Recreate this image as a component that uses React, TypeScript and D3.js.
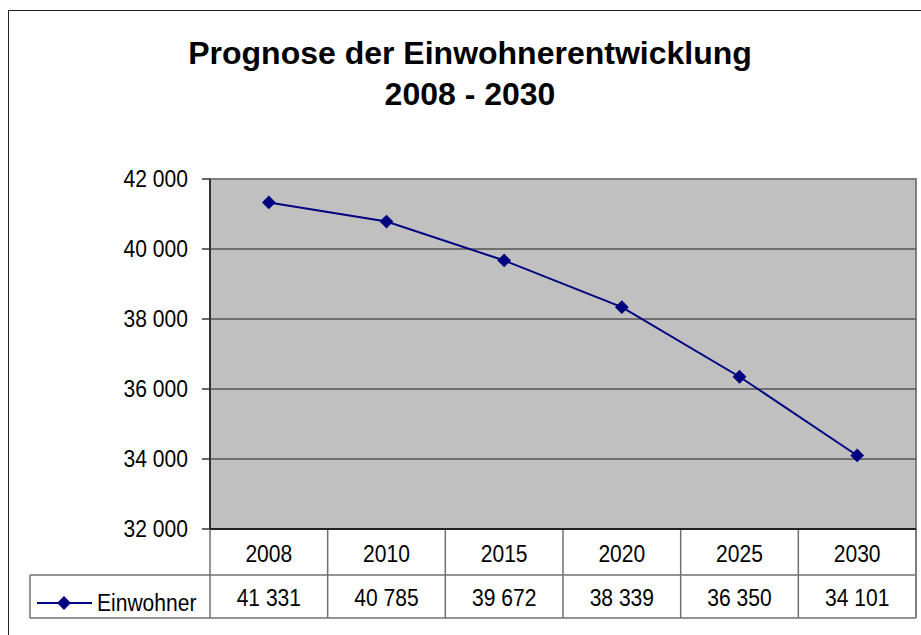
import React from "react";
import * as d3 from "d3";

const years = ["2008", "2010", "2015", "2020", "2025", "2030"];
const einwohner = [41331, 40785, 39672, 38339, 36350, 34101];
const yTicks = [32000, 34000, 36000, 38000, 40000, 42000];
const seriesName = "Einwohner";
const titleLines = ["Prognose der Einwohnerentwicklung", "2008 - 2030"];

const W = 921;
const H = 635;
const plotL = 210;
const plotR = 916;
const plotT = 179;
const plotB = 529;
const rowMid = 575;
const rowBot = 618;
const legendL = 30;

const loc = d3.formatLocale({ decimal: ",", thousands: " ", grouping: [3], currency: ["", ""] });
const fmt = loc.format(",");

const FONT = "'Liberation Sans', Arial, sans-serif";

export default function App() {
  const x = d3.scaleBand<string>().domain(years).range([plotL, plotR]).padding(0);
  const y = d3.scaleLinear().domain([32000, 42000]).range([plotB, plotT]);
  const pts: [number, number][] = years.map((yr, i) => [x(yr)! + x.bandwidth() / 2, y(einwohner[i])]);
  const line = d3.line<[number, number]>()(pts) || "";
  const diamond = d3.symbol().type(d3.symbolSquare).size(95)() || "";
  const textScale = 0.86;
  const fs = 24.5;
  const sx = (cx: number) => `translate(${cx},0) scale(${textScale},1) translate(${-cx},0)`;

  return (
    <svg width={W} height={H} style={{ position: "absolute", left: 0, top: 0 }} fontFamily={FONT}>
      <rect x={0} y={0} width={W} height={H} fill="#fff" />
      {/* outer frame */}
      <rect x={8.5} y={10.5} width={W + 20} height={H + 20} fill="none" stroke="#222" strokeWidth={1} />
      {/* title */}
      {titleLines.map((t, i) => (
        <text key={i} x={470} y={64 + i * 41} textAnchor="middle" fontWeight="bold" fontSize={32} fill="#000">
          {t}
        </text>
      ))}
      {/* plot area */}
      <rect x={plotL} y={plotT} width={plotR - plotL} height={plotB - plotT} fill="#c0c0c0" stroke="#808080" strokeWidth={2} />
      {yTicks.map((t) => (
        <g key={t}>
          {t !== 32000 && t !== 42000 && (
            <line x1={plotL} x2={plotR} y1={y(t)} y2={y(t)} stroke="#555" strokeWidth={1.5} />
          )}
          <line x1={plotL - 8} x2={plotL} y1={y(t)} y2={y(t)} stroke="#333" strokeWidth={1.5} />
          <text x={188} y={y(t) + 8.5} textAnchor="end" fontSize={fs} fill="#000" transform={sx(188)}>
            {fmt(t)}
          </text>
        </g>
      ))}
      {/* axes */}
      <line x1={plotL} x2={plotL} y1={plotT} y2={plotB} stroke="#333" strokeWidth={2} />
      {/* table */}
      <g stroke="#707070" strokeWidth={1.5} fill="none">
        <line x1={legendL} x2={plotR} y1={rowMid} y2={rowMid} />
        <line x1={legendL} x2={plotR} y1={rowBot} y2={rowBot} />
        <line x1={legendL} x2={legendL} y1={rowMid} y2={rowBot} />
        {years.map((yr) => (
          <line key={yr} x1={x(yr)!} x2={x(yr)!} y1={plotB} y2={rowBot} />
        ))}
        <line x1={plotR} x2={plotR} y1={plotB} y2={rowBot} stroke="#808080" strokeWidth={2} />
      </g>
      <line x1={plotL} x2={plotR} y1={plotB} y2={plotB} stroke="#222" strokeWidth={2} />
      {years.map((yr, i) => {
        const cx = x(yr)! + x.bandwidth() / 2;
        return (
          <g key={yr}>
            <text x={cx} y={562} textAnchor="middle" fontSize={fs} fill="#000" transform={sx(cx)}>
              {yr}
            </text>
            <text x={cx} y={606} textAnchor="middle" fontSize={fs} fill="#000" transform={sx(cx)}>
              {fmt(einwohner[i])}
            </text>
          </g>
        );
      })}
      {/* legend */}
      <line x1={37} x2={92} y1={603} y2={603} stroke="#000080" strokeWidth={2} />
      <path d={diamond} transform={`translate(64,603) rotate(45)`} fill="#000080" />
      <text x={97} y={611} fontSize={fs} fill="#000" transform={sx(97)}>
        {seriesName}
      </text>
      {/* series */}
      <path d={line} fill="none" stroke="#000080" strokeWidth={2} />
      {pts.map((p, i) => (
        <path key={i} d={diamond} transform={`translate(${p[0]},${p[1]}) rotate(45)`} fill="#000080" />
      ))}
    </svg>
  );
}
